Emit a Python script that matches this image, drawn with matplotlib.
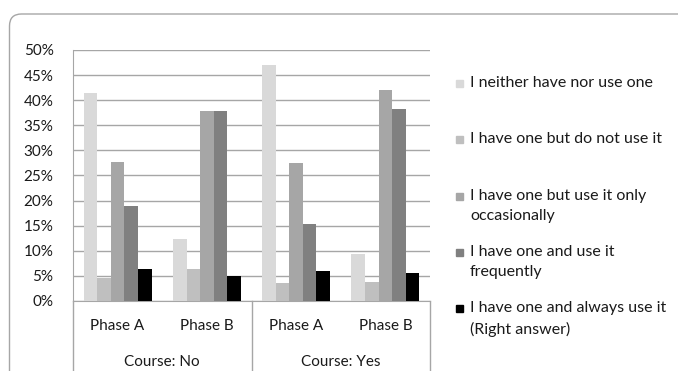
import matplotlib.pyplot as plt
import matplotlib.patches as patches
import numpy as np

plt.rcParams['font.family'] = ['Lato', 'DejaVu Sans']

categories = ['Phase A', 'Phase B', 'Phase A', 'Phase B']
groups = ['Course: No', 'Course: Yes']
series_names = ['I neither have nor use one',
                'I have one but do not use it',
                'I have one but use it only\noccasionally',
                'I have one and use it\nfrequently',
                'I have one and always use it\n(Right answer)']
colors = ['#d9d9d9', '#bfbfbf', '#a6a6a6', '#808080', '#000000']

neither = [41.5, 12.3, 47.1, 9.4]
not_use = [4.5, 6.4, 3.6, 3.8]
occasionally = [27.7, 37.9, 27.5, 42.0]
frequently = [19.0, 37.9, 15.3, 38.2]
always = [6.4, 5.0, 5.9, 5.6]
series = [neither, not_use, occasionally, frequently, always]

W, H = 678, 371
fig = plt.figure(figsize=(W / 100, H / 100), dpi=100)
ax = fig.add_axes([73 / W, (H - 301) / H, (430 - 73) / W, 251 / H])

x = np.arange(len(categories))
bw = 0.152
for i, vals in enumerate(series):
    ax.bar(x + (i - 2) * bw, vals, width=bw, color=colors[i], zorder=3)

grid_c = '#a6a6a6'
txt_c = '#1a1a1a'
ax.set_xlim(-0.5, 3.5)
ax.set_ylim(0, 50)
ax.set_yticks(np.arange(0, 51, 5))
ax.set_yticklabels([f'{v}%' for v in range(0, 51, 5)], fontsize=11, color=txt_c)
ax.yaxis.grid(True, color=grid_c, linewidth=1)
ax.set_axisbelow(True)
ax.tick_params(axis='y', length=0, pad=14)
ax.set_xticks([])
for s in ['top', 'right']:
    ax.spines[s].set_visible(False)
ax.spines['left'].set_color(grid_c)
ax.spines['bottom'].set_color(grid_c)

# category labels and group labels below the axis
for xi, lab in zip(x, categories):
    ax.text(xi, -25 / 5.02, lab, ha='center', va='center', fontsize=11, color=txt_c)
for gi, g in enumerate(groups):
    ax.text(gi * 2 + 0.5, -61 / 5.02, g, ha='center', va='center', fontsize=11, color=txt_c)
for xv in [-0.5, 1.5, 3.5]:
    ax.plot([xv, xv], [0, -15], color=grid_c, linewidth=1, clip_on=False)

# legend drawn by hand to match the spacing
leg_y = [83, 139, 196, 252, 308]
for name, c, yy in zip(series_names, colors, leg_y):
    fig.patches.append(patches.Rectangle((456 / W, (H - yy - 3.5) / H), 7 / W, 7 / H,
                                         transform=fig.transFigure, color=c))
    fig.text(470 / W, (H - yy + 7) / H, name, ha='left', va='top', fontsize=11.5,
             color=txt_c, linespacing=1.55)

# outer chart frame
frame = patches.FancyBboxPatch((9.5 / 100, -0.3), 7.5, (H - 14) / 100 + 0.3,
                               boxstyle='round,pad=0,rounding_size=0.12',
                               transform=fig.dpi_scale_trans, fill=False,
                               edgecolor='#a6a6a6', linewidth=1)
fig.patches.append(frame)

fig.savefig('out.png', dpi=100)
